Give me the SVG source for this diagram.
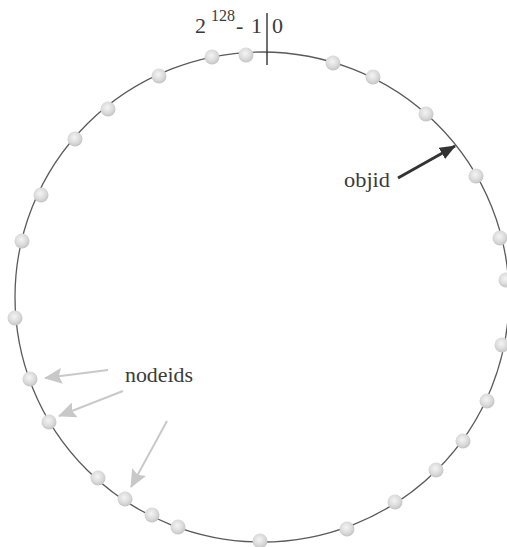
<svg xmlns="http://www.w3.org/2000/svg" width="507" height="547" viewBox="0 0 507 547">
<style>
.ring{fill:none;stroke:#5a5a5a;stroke-width:1.3}
.node{fill:url(#ball)}
.lbl{font-family:'Liberation Serif','DejaVu Serif',serif;fill:#3a3a3a}
.dark{stroke:#333;stroke-width:3;fill:none}
.light{stroke:#c9c9c9;stroke-width:2;fill:none}
</style>
<defs>
<radialGradient id="ball" cx="45%" cy="40%" r="60%">
<stop offset="0" stop-color="#f4f4f4"/>
<stop offset="0.6" stop-color="#dcdcdc"/>
<stop offset="1" stop-color="#c4c4c4"/>
</radialGradient>
<marker id="darkhead" markerWidth="16" markerHeight="13" refX="15" refY="6.5" orient="auto" markerUnits="userSpaceOnUse">
<path d="M0,0 L16,6.5 L0,13 Z" fill="#333"/>
</marker>
<marker id="lighthead" markerWidth="18" markerHeight="16" refX="17" refY="8" orient="auto" markerUnits="userSpaceOnUse">
<path d="M0,0 L18,8 L0,16 L3,8 Z" fill="#c8c8c8"/>
</marker>
</defs>

<g id="ring">
<ellipse class="ring" cx="262" cy="297" rx="247" ry="245"/>
<line x1="267" y1="13" x2="267" y2="65" stroke="#333" stroke-width="1.4"/>
</g>

<g id="label-top">
<text class="lbl" font-family="Liberation Serif, serif" x="195" y="33" font-size="22">2</text>
<text class="lbl" font-family="Liberation Serif, serif" x="211" y="21" font-size="16">128</text>
<text class="lbl" font-family="Liberation Serif, serif" x="236" y="33" font-size="22">-</text>
<text class="lbl" font-family="Liberation Serif, serif" x="251" y="33" font-size="22">1</text>
<text class="lbl" font-family="Liberation Serif, serif" x="272" y="33" font-size="22">0</text>
</g>

<g id="nodes">
<circle class="node" cx="212" cy="57" r="7.5"/>
<circle class="node" cx="246" cy="55" r="7.5"/>
<circle class="node" cx="333" cy="63" r="7.5"/>
<circle class="node" cx="373" cy="77" r="7.5"/>
<circle class="node" cx="426" cy="114" r="7.5"/>
<circle class="node" cx="476" cy="176" r="7.5"/>
<circle class="node" cx="500" cy="238" r="7.5"/>
<circle class="node" cx="506" cy="280" r="7.5"/>
<circle class="node" cx="502" cy="345" r="7.5"/>
<circle class="node" cx="487" cy="401" r="7.5"/>
<circle class="node" cx="463" cy="441" r="7.5"/>
<circle class="node" cx="436" cy="470" r="7.5"/>
<circle class="node" cx="395" cy="502" r="7.5"/>
<circle class="node" cx="347" cy="529" r="7.5"/>
<circle class="node" cx="260" cy="541" r="7.5"/>
<circle class="node" cx="178" cy="527" r="7.5"/>
<circle class="node" cx="152" cy="515" r="7.5"/>
<circle class="node" cx="125" cy="499" r="7.5"/>
<circle class="node" cx="98" cy="478" r="7.5"/>
<circle class="node" cx="49" cy="422" r="7.5"/>
<circle class="node" cx="30" cy="379" r="7.5"/>
<circle class="node" cx="15" cy="318" r="7.5"/>
<circle class="node" cx="22" cy="241" r="7.5"/>
<circle class="node" cx="41" cy="195" r="7.5"/>
<circle class="node" cx="75" cy="139" r="7.5"/>
<circle class="node" cx="108" cy="109" r="7.5"/>
<circle class="node" cx="159" cy="76" r="7.5"/>
</g>

<g id="connectors">
<line class="dark" x1="398" y1="178" x2="455" y2="146" marker-end="url(#darkhead)"/>
<line class="light" x1="108" y1="370" x2="45" y2="378" marker-end="url(#lighthead)"/>
<line class="light" x1="123" y1="391" x2="59" y2="416" marker-end="url(#lighthead)"/>
<line class="light" x1="167" y1="421" x2="131" y2="487" marker-end="url(#lighthead)"/>
</g>

<g id="label-objid">
<text class="lbl" font-family="Liberation Serif, serif" x="344" y="187" font-size="21" textLength="46" lengthAdjust="spacingAndGlyphs">objid</text>
</g>
<g id="label-nodeids">
<text class="lbl" font-family="Liberation Serif, serif" x="125" y="382" font-size="21" textLength="68" lengthAdjust="spacingAndGlyphs">nodeids</text>
</g>
</svg>
